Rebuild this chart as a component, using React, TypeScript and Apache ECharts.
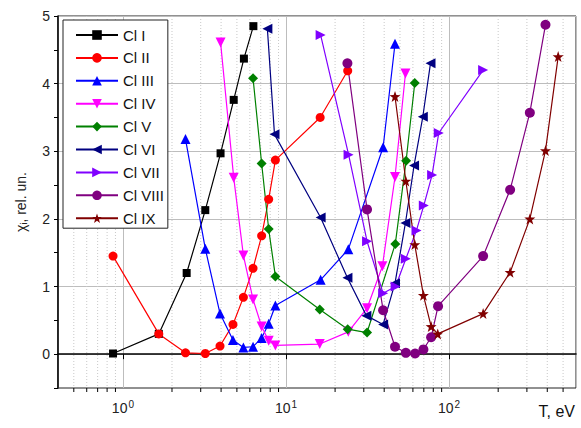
import React, { useEffect, useRef } from "react";
import * as echarts from "echarts";

const seriesNames = ["Cl I", "Cl II", "Cl III", "Cl IV", "Cl V", "Cl VI", "Cl VII", "Cl VIII", "Cl IX"];

const clI = [[0.87, 0.01], [1.66, 0.3], [2.46, 1.2], [3.2, 2.13], [3.97, 2.97], [4.78, 3.76], [5.52, 4.37], [6.31, 4.85]];
const clII = [[0.87, 1.45], [1.66, 0.3], [2.42, 0.02], [3.2, 0.01], [3.94, 0.12], [4.73, 0.44], [5.48, 0.84], [6.28, 1.27], [7.09, 1.75], [7.83, 2.29], [8.61, 2.87], [16.2, 3.5], [23.9, 4.19]];
const clIII = [[2.42, 3.18], [3.2, 1.56], [3.94, 0.6], [4.73, 0.21], [5.48, 0.1], [6.28, 0.11], [7.09, 0.24], [7.83, 0.45], [8.61, 0.72], [16.3, 1.1], [24.1, 1.55], [39.4, 3.06], [46.6, 4.59]];
const clIV = [[3.97, 4.61], [4.78, 2.61], [5.48, 1.46], [6.28, 0.81], [7.09, 0.41], [7.83, 0.2], [8.61, 0.13], [16.1, 0.15], [24.1, 0.33], [31.4, 0.68], [39.0, 1.3], [46.6, 2.62], [54.0, 4.15]];
const clV = [[6.28, 4.08], [7.09, 2.82], [7.83, 1.85], [8.61, 1.15], [16.1, 0.66], [23.9, 0.37], [31.4, 0.32], [46.8, 1.63], [54.5, 2.86], [61.6, 4.01]];
const clVI = [[7.69, 4.81], [8.5, 3.25], [16.3, 2.02], [23.8, 1.13], [31.1, 0.57], [39.4, 0.44], [46.6, 1.05], [54.0, 1.94], [61.0, 2.79], [69.0, 3.51], [76.9, 4.3]];
const clVII = [[16.3, 4.72], [24.2, 2.95], [31.4, 1.67], [39.4, 0.9], [47.0, 1.0], [54.3, 1.41], [63.1, 1.83], [70.0, 2.2], [78.7, 2.65], [86.4, 3.27], [161.7, 4.2]];
const clVIII = [[23.8, 4.3], [31.4, 2.14], [39.4, 0.65], [46.6, 0.11], [54.3, 0.02], [61.9, 0.01], [69.6, 0.07], [77.6, 0.25], [85.6, 0.71], [161.7, 1.45], [236.7, 2.43], [312.7, 3.57], [390, 4.87]];
const clIX = [[46.6, 3.81], [54.3, 2.56], [61.6, 1.62], [69.6, 0.87], [77.6, 0.41], [85.2, 0.3], [161.7, 0.6], [236.7, 1.21], [312.7, 2.0], [390, 3.01], [466.5, 4.4]];

const minorTickValues = [0.5, 0.6, 0.7, 0.8, 0.9, 2, 3, 4, 5, 6, 7, 8, 9, 20, 30, 40, 50, 60, 70, 80, 90, 200, 300, 400, 500];

const colors = ["#000000", "#ff0000", "#0000ff", "#ff00ff", "#008000", "#000080", "#8000ff", "#800080", "#800000"];
const STAR = "path://M0,-10 L2.35,-3.24 L9.51,-3.09 L3.8,1.24 L5.88,8.09 L0,4 L-5.88,8.09 L-3.8,1.24 L-9.51,-3.09 L-2.35,-3.24 Z";
const symbols = ["rect", "circle", "triangle", "triangle", "diamond", "triangle", "triangle", "circle", STAR];
const rotations = [0, 0, 0, 180, 0, 90, -90, 0, 0];
const sizes = [8, 9, 10, 10, 10, 10, 10, 10, 11];

const FONT = '"Liberation Sans", Arial, sans-serif';

export default function App() {
  const ref = useRef<HTMLDivElement>(null);
  useEffect(() => {
    const chart = echarts.init(ref.current!, null, { renderer: "svg" });
    const datasets = [clI, clII, clIII, clIV, clV, clVI, clVII, clVIII, clIX];
    const lineSeries = datasets.map((d, i) => ({
      name: seriesNames[i],
      type: "line",
      data: d,
      symbol: symbols[i],
      symbolSize: sizes[i],
      symbolRotate: rotations[i],
      showAllSymbol: true,
      color: colors[i],
      lineStyle: { width: 1.2, color: colors[i] },
      itemStyle: { color: colors[i], borderWidth: 0 },
      z: 3,
    }));
    const option = {
      animation: false,
      backgroundColor: "#ffffff",
      textStyle: { fontFamily: FONT },
      grid: { left: 58, right: 5, top: 16, bottom: 40, show: true, borderColor: "#222", borderWidth: 1, backgroundColor: "transparent" },
      legend: {
        data: seriesNames,
        orient: "vertical",
        left: 63,
        top: 20,
        padding: [7, 4, 2, 12],
        itemWidth: 42,
        itemHeight: 12,
        itemGap: 6.9,
        backgroundColor: "#ffffff",
        borderColor: "#222",
        borderWidth: 1,
        textStyle: { fontSize: 15, lineHeight: 16, color: "#111", fontFamily: FONT },
      },
      xAxis: {
        type: "log",
        logBase: 10,
        min: 0.4,
        max: 600,
        splitNumber: 3,
        axisLine: { lineStyle: { color: "#000", width: 1.5 } },
        axisTick: { inside: false, length: 5, lineStyle: { color: "#000" } },
        axisLabel: {
          showMinLabel: false,
          showMaxLabel: false,
          margin: 11,
          color: "#222",
          fontSize: 14,
          fontFamily: FONT,
          formatter: (v: number) => {
            const e = Math.log10(v);
            if (Math.abs(e - Math.round(e)) > 1e-6) return "";
            return "10{s|" + Math.round(e) + "}";
          },
          rich: { s: { fontSize: 10, verticalAlign: "top", padding: [0, 0, 8, 1], color: "#222", fontFamily: FONT } },
        },
        splitLine: { show: true, lineStyle: { color: "#bdbdbd", width: 1 } },
      },
      yAxis: {
        type: "value",
        min: -0.5,
        max: 5,
        interval: 0.5,
        name: "{a|χ}{s|i}{a|, rel. un.}",
        nameLocation: "middle",
        nameGap: 30,
        nameTextStyle: {
          rich: {
            a: { fontSize: 14, color: "#222", fontFamily: FONT },
            s: { fontSize: 9, color: "#222", verticalAlign: "bottom", padding: [6, 0, 0, 0], fontFamily: FONT },
          },
        },
        axisLine: { show: true, lineStyle: { color: "#000", width: 1.5 } },
        axisTick: { show: true, inside: false, length: 4, lineStyle: { color: "#000" } },
        axisLabel: {
          color: "#222",
          fontSize: 14,
          margin: 8,
          fontFamily: FONT,
          formatter: (v: number) => (Math.abs(v - Math.round(v)) < 1e-6 ? String(Math.round(v)) : ""),
        },
        splitLine: { show: true, lineStyle: { color: ["rgba(0,0,0,0)", "#bdbdbd"], width: 1 } },
      },
      graphic: [
        { type: "text", right: 6, top: 403, style: { text: "T, eV", fontSize: 16, fill: "#111", fontFamily: FONT } },
      ],
      series: [
        {
          type: "custom",
          name: "minor",
          data: minorTickValues.map((v) => [v]),
          z: 1,
          silent: true,
          clip: false,
          renderItem: (params: any, api: any) => {
            const v = api.value(0);
            const top = api.coord([v, 5]);
            const bot = api.coord([v, -0.5]);
            return {
              type: "group",
              children: [
                { type: "line", shape: { x1: top[0], y1: top[1], x2: bot[0], y2: bot[1] }, style: { stroke: "#c8c8c8", lineWidth: 1, lineDash: [1, 2] } },
                { type: "line", shape: { x1: bot[0], y1: bot[1], x2: bot[0], y2: bot[1] + 4 }, style: { stroke: "#000", lineWidth: 1 } },
              ],
            };
          },
        },
        ...lineSeries,
      ],
    };
    chart.setOption(option as any);
    return () => chart.dispose();
  }, []);
  return <div ref={ref} style={{ position: "fixed", left: 0, top: 0, width: 581, height: 428 }} />;
}
